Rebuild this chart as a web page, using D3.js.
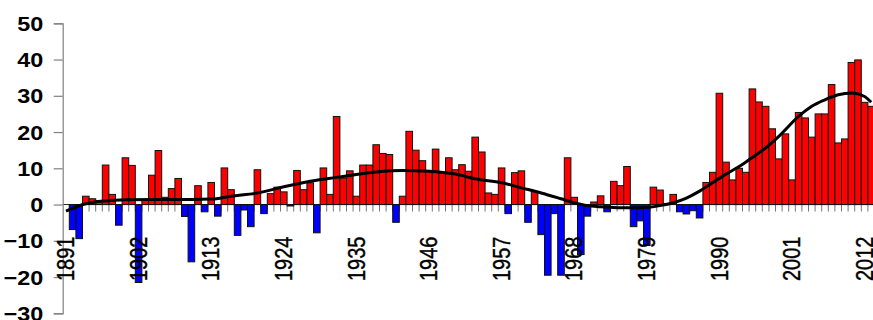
<!DOCTYPE html>
<html>
<head>
<meta charset="utf-8">
<script src="https://cdn.jsdelivr.net/npm/d3@7"></script>
<style>
  html, body { margin: 0; padding: 0; background: #fff; }
  svg { display: block; }
</style>
</head>
<body>
<svg id="chart" width="873" height="320"></svg>
<script>
const firstYear = 1891;
const anomalies = [
  0, -6.9, -9.4, 2.3, 1.6, 1.1, 10.9, 2.8, -5.7, 12.9,      // 1891-1900
  10.8, -21.5, 1.2, 8.1, 14.9, 2.0, 4.4, 7.2, -3.3, -15.8,   // 1901-1910
  5.2, -2.0, 6.1, -3.2, 10.1, 4.1, -8.5, -1.5, -6.1, 9.6,    // 1911-1920
  -2.5, 3.0, 4.8, 3.5, -0.4, 9.4, 4.1, 6.0, -7.8, 10.1,      // 1921-1930
  2.8, 24.3, 7.3, 9.3, 2.3, 10.9, 10.9, 16.5, 14.1, 13.8,    // 1931-1940
  -4.9, 2.3, 20.2, 15.0, 12.1, 9.4, 15.3, 8.8, 12.9, 9.6,    // 1941-1950
  11.0, 9.2, 18.6, 14.5, 3.2, 2.8, 10.1, -2.5, 8.8, 9.3,     // 1951-1960
  -4.9, 3.6, -8.3, -19.5, -2.5, -19.5, 12.9, 2.0, -13.8, -3.2, // 1961-1970
  0.7, 2.4, -2.0, 6.4, 5.2, 10.5, -6.1, -4.5, -11.3, 4.8,    // 1971-1980
  4.0, 0.3, 2.8, -2.0, -2.6, -1.7, -3.7, 6.1, 8.9, 30.7,     // 1981-1990
  11.7, 6.8, 10.0, 8.9, 31.9, 28.3, 27.1, 20.9, 12.6, 19.5,  // 1991-2000
  6.8, 25.4, 23.9, 18.6, 25.0, 25.0, 33.1, 17.0, 18.1, 39.2, // 2001-2010
  39.9, 28.2, 27.1                                           // 2011-2013
];
const years = anomalies.map((_, i) => firstYear + i);

const trendYears  = [1891, 1894, 1897, 1900, 1905, 1910, 1913, 1916, 1920, 1924, 1928, 1932, 1935, 1938, 1942, 1946, 1950, 1953, 1957, 1960, 1963, 1966, 1968, 1970, 1972, 1975, 1978, 1981, 1983, 1985, 1987, 1989, 1991, 1993, 1995, 1997, 1999, 2002, 2004, 2006, 2008, 2010, 2012, 2013];
const trendValues = [-1.8, 0.2, 1.0, 1.3, 1.4, 1.4, 1.5, 2.3, 3.2, 4.9, 6.4, 7.5, 8.3, 9.0, 9.4, 9.2, 8.4, 7.1, 6.0, 4.6, 3.2, 1.6, 0.5, -0.3, -0.6, -0.9, -0.9, -0.3, 0.5, 1.8, 3.7, 6.1, 8.4, 10.5, 13.0, 15.6, 18.8, 24.3, 27.1, 28.9, 30.3, 30.8, 29.8, 28.2];

const xLabelYears = [1891, 1902, 1913, 1924, 1935, 1946, 1957, 1968, 1979, 1990, 2001, 2012];
const yTicks = [-30, -20, -10, 0, 10, 20, 30, 40, 50];

const svg = d3.select("#chart");
const left = 62.7, slot = 6.6;
const x = d3.scaleBand().domain(years).range([left, left + years.length * slot]).padding(0);
const y = d3.scaleLinear().domain([-30, 50]).range([313.3, 23.3]);

const font = "'Liberation Sans', Arial, Helvetica, sans-serif";

// category boundary ticks below the zero line
svg.append("g").selectAll("line")
  .data(years.slice(1).concat([years[years.length - 1] + 1]))
  .join("line")
  .attr("x1", d => (d <= years[years.length-1] ? x(d) : x(d-1) + x.bandwidth()))
  .attr("x2", d => (d <= years[years.length-1] ? x(d) : x(d-1) + x.bandwidth()))
  .attr("y1", y(0)).attr("y2", y(0) + 7)
  .attr("stroke", "#777").attr("stroke-width", 1);

// zero line
svg.append("line")
  .attr("x1", left).attr("x2", 873)
  .attr("y1", y(0)).attr("y2", y(0))
  .attr("stroke", "#222").attr("stroke-width", 1);

// bars
svg.append("g").selectAll("rect")
  .data(years.map((yr, i) => ({ yr, v: anomalies[i] })))
  .join("rect")
  .attr("x", d => x(d.yr))
  .attr("width", x.bandwidth())
  .attr("y", d => y(Math.max(0, d.v)))
  .attr("height", d => Math.abs(y(d.v) - y(0)))
  .attr("fill", d => d.v >= 0 ? "#ff0000" : "#0000ff")
  .attr("stroke", "#111")
  .attr("stroke-width", 1);

// y axis
const yAxis = svg.append("g")
  .attr("transform", `translate(${left},0)`)
  .call(d3.axisLeft(y).tickValues(yTicks).tickSize(9).tickPadding(0).tickFormat(d3.format("d")));
yAxis.select(".domain").attr("stroke", "#808080").attr("stroke-width", 1.2);
yAxis.selectAll(".tick line").attr("stroke", "#808080").attr("stroke-width", 1.2);
yAxis.selectAll(".tick text")
  .attr("x", null).attr("dy", null)
  .attr("transform", "translate(-19.4,7) scale(1.17,1)")
  .attr("text-anchor", "end")
  .attr("fill", "#000")
  .style("font-family", font).style("font-size", "20px").style("font-weight", "bold");

// x labels
const xAxis = svg.append("g")
  .attr("transform", `translate(0,${y(0)})`)
  .call(d3.axisBottom(x).tickValues(xLabelYears).tickSize(0).tickPadding(0));
xAxis.select(".domain").remove();
xAxis.selectAll(".tick text")
  .attr("y", null).attr("dy", null)
  .attr("transform", "translate(0,32) scale(1.22,1) rotate(-90)")
  .attr("text-anchor", "end")
  .attr("dominant-baseline", "central")
  .attr("fill", "#000")
  .attr("stroke", "#000").attr("stroke-width", 0.35)
  .style("font-family", font).style("font-size", "20px");

// trend line
const line = d3.line()
  .x((d, i) => x(d) + x.bandwidth() / 2)
  .y((d, i) => y(trendValues[i]))
  .curve(d3.curveMonotoneX);
svg.append("path")
  .datum(trendYears)
  .attr("d", line)
  .attr("fill", "none")
  .attr("stroke", "#000")
  .attr("stroke-width", 3)
  .attr("stroke-linejoin", "round");
</script>
</body>
</html>
